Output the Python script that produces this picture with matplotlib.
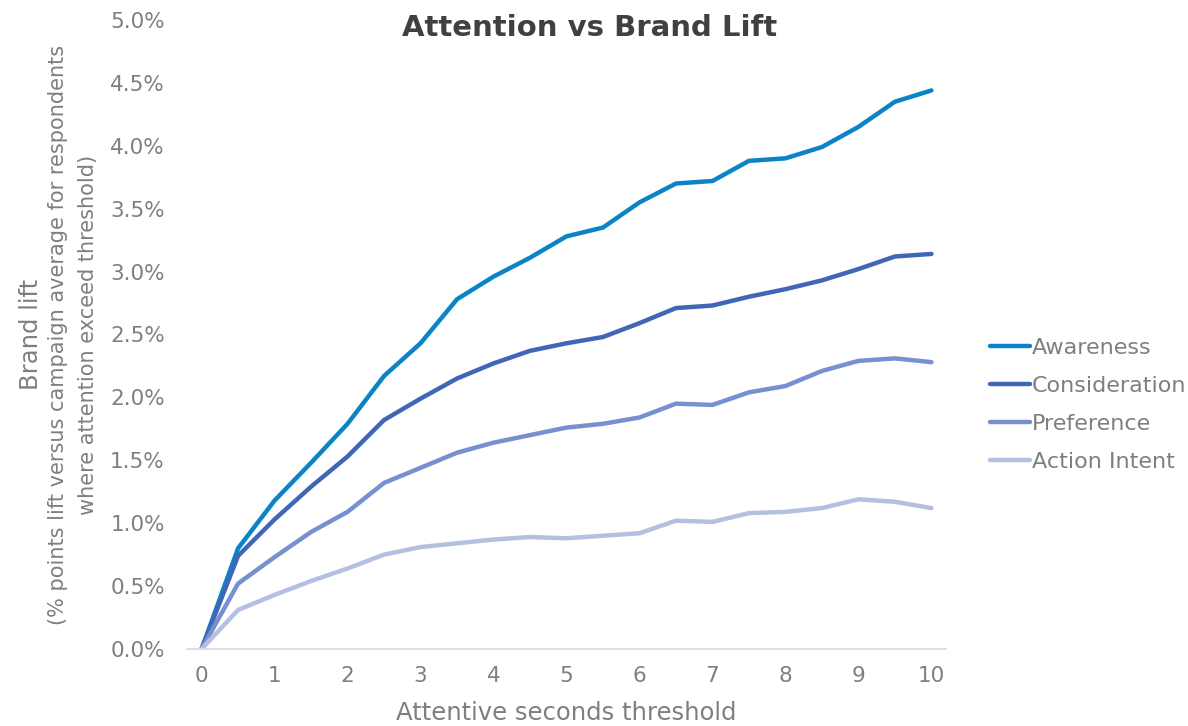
import matplotlib.pyplot as plt
from matplotlib.ticker import FuncFormatter

seconds = [0, 0.5, 1, 1.5, 2, 2.5, 3, 3.5, 4, 4.5, 5, 5.5, 6, 6.5, 7, 7.5, 8, 8.5, 9, 9.5, 10]

awareness = [0.0, 0.80, 1.18, 1.48, 1.79, 2.17, 2.43, 2.78, 2.96, 3.11, 3.28, 3.35, 3.55, 3.70, 3.72,
             3.88, 3.90, 3.99, 4.15, 4.35, 4.44]
consideration = [0.0, 0.74, 1.03, 1.29, 1.53, 1.82, 1.99, 2.15, 2.27, 2.37, 2.43, 2.48, 2.59, 2.71, 2.73,
                 2.80, 2.86, 2.93, 3.02, 3.12, 3.14]
preference = [0.0, 0.52, 0.73, 0.93, 1.09, 1.32, 1.44, 1.56, 1.64, 1.70, 1.76, 1.79, 1.84, 1.95, 1.94,
              2.04, 2.09, 2.21, 2.29, 2.31, 2.28]
action_intent = [0.0, 0.31, 0.43, 0.54, 0.64, 0.75, 0.81, 0.84, 0.87, 0.89, 0.88, 0.90, 0.92, 1.02, 1.01,
                 1.08, 1.09, 1.12, 1.19, 1.17, 1.12]

series_names = ["Awareness", "Consideration", "Preference", "Action Intent"]
colors = ["#0a84c6", "#3f67b5", "#7690d0", "#b4c0e2"]

grey = "#7f7f7f"
plt.rcParams["font.family"] = ["DejaVu Sans"]

fig = plt.figure(figsize=(11.88, 7.26), dpi=100)
ax = fig.add_axes([0.1574, 0.1061, 0.6389, 0.8664])

for name, vals, c in zip(series_names, [awareness, consideration, preference, action_intent], colors):
    ax.plot(seconds, vals, color=c, linewidth=3.2, label=name, solid_capstyle="round", solid_joinstyle="round")

ax.set_xlim(-0.2, 10.2)
ax.set_ylim(0, 5)
ax.set_xticks(range(0, 11))
ax.set_yticks([i * 0.5 for i in range(11)])
ax.yaxis.set_major_formatter(FuncFormatter(lambda v, p: f"{v:.1f}%"))
ax.tick_params(length=0, labelsize=15.5, colors=grey)
ax.tick_params(axis="y", pad=16)
ax.tick_params(axis="x", pad=12)
for s in ["top", "right", "left"]:
    ax.spines[s].set_visible(False)
ax.spines["bottom"].set_color("#d9d9d9")
ax.spines["bottom"].set_linewidth(1.2)

ax.set_xlabel("Attentive seconds threshold", fontsize=17.5, color=grey, labelpad=11)
fig.text(0.496, 0.961, "Attention vs Brand Lift", ha="center", va="center",
         fontsize=21, fontweight="bold", color="#404040")

# y-axis title in three lines, first one bigger
fig.text(0.026, 0.539, "Brand lift", rotation=90, ha="center", va="center",
         fontsize=17.5, color=grey)
fig.text(0.049, 0.539, "(% points lift versus campaign average for respondents", rotation=90,
         ha="center", va="center", fontsize=15, color=grey)
fig.text(0.074, 0.539, "where attention exceed threshold)", rotation=90,
         ha="center", va="center", fontsize=15, color=grey)

leg = ax.legend(loc="center left", bbox_to_anchor=(1.058, 0.388), frameon=False, fontsize=16,
                handlelength=1.8, handletextpad=0.1, labelspacing=0.8, borderpad=0, borderaxespad=0)
for t in leg.get_texts():
    t.set_color(grey)

fig.savefig("out.png", dpi=100)
